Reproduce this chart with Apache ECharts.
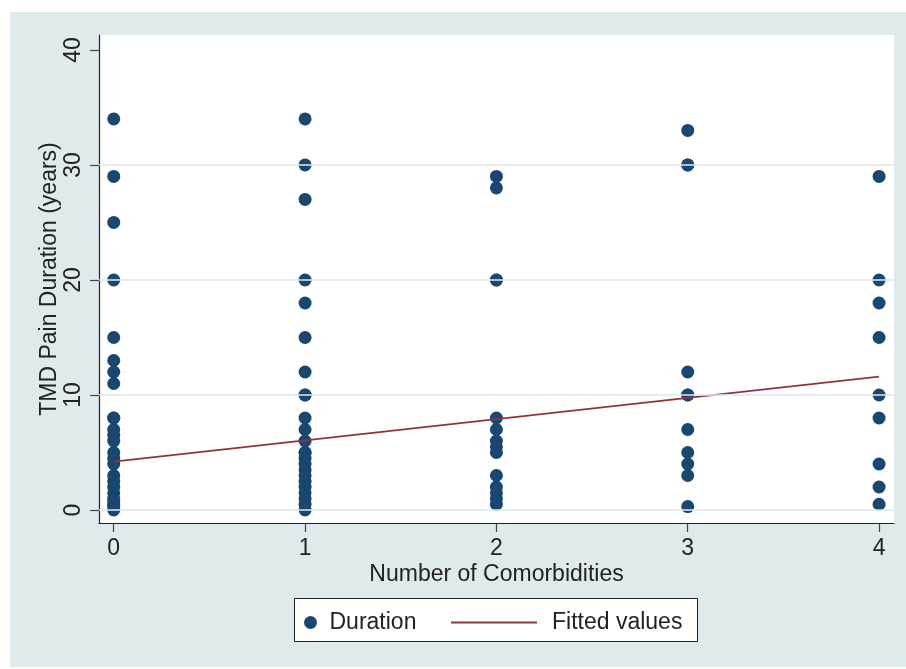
<!DOCTYPE html>
<html>
<head>
<meta charset="utf-8">
<script src="https://cdn.jsdelivr.net/npm/echarts@6/dist/echarts.min.js"></script>
<style>
html,body{margin:0;padding:0;background:#ffffff;}
#chart{width:906px;height:669px;}
</style>
</head>
<body>
<div id="chart"></div>
<script>
// Duration (years) by number of comorbidities
const comorbidities = [0, 1, 2, 3, 4];
const duration0 = [34, 29, 25, 20, 15, 13, 12, 11, 8, 8, 7, 6.5, 6, 5, 4.5, 4, 3, 2.5, 2, 1.5, 1, 0.8, 0.5, 0.3, 0];
const duration1 = [34, 30, 27, 20, 18, 15, 12, 10, 10, 8, 7, 6, 5, 5, 4.5, 4, 3.5, 3, 2.5, 2, 1.5, 1, 0.5, 0];
const duration2 = [29, 28, 20, 20, 8, 7, 6, 5.5, 5, 3, 2, 1.5, 1, 0.5];
const duration3 = [33, 30, 30, 12, 10, 10, 7, 5, 4, 3, 0.3];
const duration4 = [29, 20, 18, 15, 10, 8, 4, 2, 0.5];
const fitX = [0, 4];
const fitY = [4.2, 11.6];
const yTicks = [0, 10, 20, 30, 40];
const xTicks = [0, 1, 2, 3, 4];
const gridValues = [0, 10, 20, 30];

const groups = [duration0, duration1, duration2, duration3, duration4];
const scatterData = [];
groups.forEach((g, i) => g.forEach(v => scatterData.push([comorbidities[i], v])));
const fitData = fitX.map((x, i) => [x, fitY[i]]);

const FONT = 'Liberation Sans, Arial, Helvetica, sans-serif';
const FS = 23;
const chart = echarts.init(document.getElementById('chart'), null, {renderer: 'canvas'});
chart.setOption({
  backgroundColor: '#ffffff',
  animation: false,
  graphic: [
    {type: 'rect', z: -10, shape: {x: 10, y: 12, width: 896, height: 655}, style: {fill: '#e0e9eb'}},
    {type: 'rect', z: -9, shape: {x: 99, y: 35, width: 795, height: 488}, style: {fill: '#ffffff'}},
    {type: 'rect', z: 5, shape: {x: 294.5, y: 598.5, width: 403, height: 43}, style: {fill: '#ffffff', stroke: '#222', lineWidth: 1}}
  ],
  grid: {left: 99, top: 35, right: 12, bottom: 146, containLabel: false},
  xAxis: {
    type: 'value', min: -0.077, max: 4.078,
    name: 'Number of Comorbidities', nameLocation: 'middle', nameGap: 40, nameMoveOverlap: false,
    nameTextStyle: {fontFamily: FONT, fontSize: FS, color: '#222'},
    axisLine: {show: true, onZero: false, lineStyle: {color: '#222', width: 1.2}},
    axisTick: {show: true, length: 9, customValues: xTicks, lineStyle: {color: '#444', width: 1.2}},
    axisLabel: {customValues: xTicks, margin: 14, fontFamily: FONT, fontSize: FS, color: '#222'},
    splitLine: {show: false}
  },
  yAxis: {
    type: 'value', min: -1.13, max: 41.3,
    name: 'TMD Pain Duration (years)', nameLocation: 'middle', nameGap: 38, nameMoveOverlap: false,
    nameTextStyle: {fontFamily: FONT, fontSize: FS, color: '#222'},
    axisLine: {show: true, onZero: false, lineStyle: {color: '#222', width: 1.2}},
    axisTick: {show: true, length: 9, customValues: yTicks, lineStyle: {color: '#444', width: 1.2}},
    axisLabel: {customValues: yTicks, rotate: 90, margin: 14, fontFamily: FONT, fontSize: FS, color: '#222'},
    splitLine: {show: false}
  },
  legend: [
    {data: ['Duration'], left: 299, top: 606, itemWidth: 28, itemHeight: 13, itemGap: 0, z: 10,
     icon: 'circle', textStyle: {fontFamily: FONT, fontSize: FS, color: '#222'}},
    {data: [{name: 'Fitted values', icon: 'rect'}], left: 446, top: 606, itemWidth: 86, itemHeight: 2, z: 10,
     itemStyle: {color: '#90353b'},
     textStyle: {fontFamily: FONT, fontSize: FS, color: '#222', padding: [0, 0, 0, 10]}}
  ],
  series: [
    {
      name: 'grid', type: 'line', data: [], silent: true, z: 1,
      markLine: {silent: true, symbol: 'none', label: {show: false},
        lineStyle: {color: '#dfe8ea', width: 1.5, type: 'solid'},
        data: gridValues.map(v => ({yAxis: v}))}
    },
    {
      name: 'Duration', type: 'scatter', data: scatterData, symbol: 'circle', symbolSize: 13, z: 3,
      itemStyle: {color: '#1a476f', opacity: 1}
    },
    {
      name: 'Fitted values', type: 'line', data: fitData, symbol: 'none', showSymbol: false, z: 4,
      lineStyle: {color: '#90353b', width: 1.7}, itemStyle: {color: '#90353b'}
    }
  ]
});
</script>
</body>
</html>
